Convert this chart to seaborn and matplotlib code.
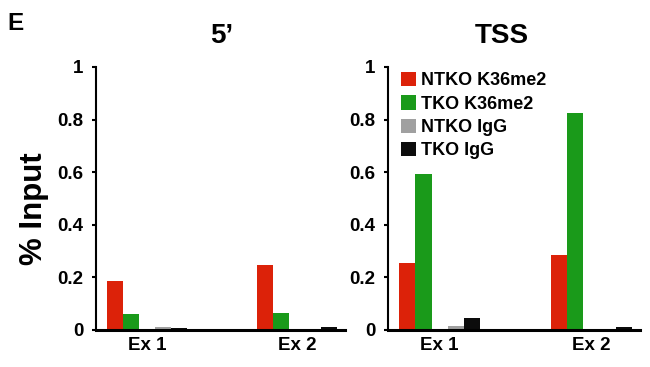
import pandas as pd
import matplotlib
matplotlib.use("Agg")
import matplotlib.pyplot as plt
import seaborn as sns

# data (% input)
exons = ["Ex 1", "Ex 2"]
samples = ["NTKO K36me2", "TKO K36me2", "NTKO IgG", "TKO IgG"]
five_prime = {
    "NTKO K36me2": [0.187, 0.248],
    "TKO K36me2": [0.061, 0.065],
    "NTKO IgG": [0.012, 0.003],
    "TKO IgG": [0.008, 0.010],
}
tss = {
    "NTKO K36me2": [0.255, 0.285],
    "TKO K36me2": [0.595, 0.825],
    "NTKO IgG": [0.015, 0.003],
    "TKO IgG": [0.045, 0.010],
}
yticks = [0, 0.2, 0.4, 0.6, 0.8, 1]
ytick_labels = ["0", "0.2", "0.4", "0.6", "0.8", "1"]

colors = {"NTKO K36me2": "#dc2209", "TKO K36me2": "#1a9a1a",
          " ": "white", "NTKO IgG": "#a0a0a0", "TKO IgG": "#0c0c0c"}
# blank level keeps the gap between K36me2 and IgG bars
hue_order = ["NTKO K36me2", "TKO K36me2", " ", "NTKO IgG", "TKO IgG"]


def to_long(d):
    rows = []
    for s in samples:
        for e, v in zip(exons, d[s]):
            rows.append({"exon": e, "sample": s, "value": v})
    return pd.DataFrame(rows)


sns.set_style("ticks")
plt.rcParams["font.family"] = ["Liberation Sans", "DejaVu Sans"]
plt.rcParams["font.weight"] = "bold"
plt.rcParams["text.color"] = "black"
plt.rcParams["axes.labelcolor"] = "black"
plt.rcParams["xtick.color"] = "black"
plt.rcParams["ytick.color"] = "black"
plt.rcParams["axes.edgecolor"] = "black"

fig = plt.figure(figsize=(6.5, 3.67), dpi=100)
ax1 = fig.add_axes([96 / 650, 37 / 367, 249 / 650, 263 / 367])
ax2 = fig.add_axes([388 / 650, 37 / 367, 252 / 650, 263 / 367])

for ax, d, title, tx in [(ax1, five_prime, "5\u2019", 0.506), (ax2, tss, "TSS", 0.45)]:
    sns.barplot(data=to_long(d), x="exon", y="value", hue="sample",
                hue_order=hue_order, palette=colors, width=0.53,
                order=exons, ax=ax, legend=(ax is ax2), saturation=1,
                linewidth=0)
    ax.set_ylim(0, 1)
    ax.set_xlim(-0.34, 1.32)
    ax.set_yticks(yticks)
    ax.set_yticklabels(ytick_labels)
    ax.set_xlabel("")
    ax.set_ylabel("")
    sns.despine(ax=ax)
    ax.spines["left"].set_linewidth(1.5)
    ax.spines["bottom"].set_linewidth(2.2)
    ax.tick_params(axis="y", length=3, width=1.5, labelsize=13.5, pad=6)
    ax.tick_params(axis="x", length=0, labelsize=13.5, pad=5)
    for lab in ax.get_xticklabels() + ax.get_yticklabels():
        lab.set_fontweight("bold")
    ax.set_title(title, fontsize=20, fontweight="bold", x=tx, y=1.09, pad=0)

ax1.set_ylabel("% Input", fontsize=22.5, fontweight="bold", labelpad=6)
ax1.yaxis.set_label_coords(-0.19, 0.46)

handles, labels = ax2.get_legend_handles_labels()
keep = [(h, l) for h, l in zip(handles, labels) if l.strip()]
ax2.legend([h for h, l in keep], [l for h, l in keep], loc="upper left",
           bbox_to_anchor=(0.0, 1.03), frameon=False,
           handlelength=0.85, handleheight=0.85, handletextpad=0.3,
           labelspacing=0.33, borderaxespad=0.3,
           prop={"weight": "bold", "size": 13})

fig.text(7 / 650, 1 - 30 / 367, "E", fontsize=17.5, fontweight="bold")

fig.savefig("out.png", dpi=100)
